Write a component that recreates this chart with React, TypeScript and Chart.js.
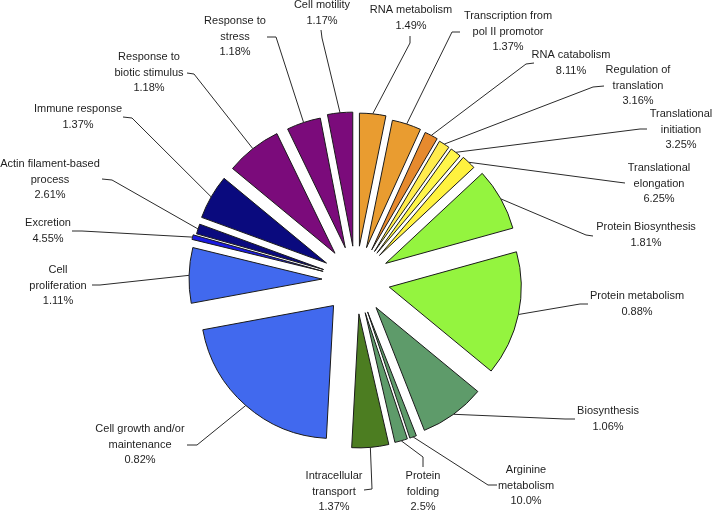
import React, { useEffect, useRef } from 'react';
import { Chart, registerables, ArcElement, PolarAreaController } from 'chart.js';

Chart.register(...registerables);

// ---------- data ----------
const categories: string[] = [
  'RNA metabolism',
  'Transcription from\npol II promotor',
  'RNA catabolism',
  'Regulation of\ntranslation',
  'Translational\ninitiation',
  'Translational\nelongation',
  'Protein Biosynthesis',
  'Protein metabolism',
  'Biosynthesis',
  'Arginine\nmetabolism',
  'Protein\nfolding',
  'Intracellular\ntransport',
  'Cell growth and/or\nmaintenance',
  'Cell\nproliferation',
  'Excretion',
  'Actin filament-based\nprocess',
  'Immune response',
  'Response to\nbiotic stimulus',
  'Response to\nstress',
  'Cell motility',
];

const percentLabels: string[] = [
  '1.49%', '1.37%', '8.11%', '3.16%', '3.25%', '6.25%', '1.81%', '0.88%', '1.06%', '10.0%',
  '2.5%', '1.37%', '0.82%', '1.11%', '4.55%', '2.61%', '1.37%', '1.18%', '1.18%', '1.17%',
];

// angular width of each slice (degrees)
const sliceAngles: number[] = [
  11.5, 13, 6, 5, 5, 6.5, 27.5, 55, 29, 3,
  5.6, 16, 76.4, 24.2, 2, 4.4, 19.5, 24.5, 15, 10.9,
];

// radial value of each slice
const sliceRadii: number[] = [
  133, 130, 129, 128, 128, 129, 132, 132, 132, 133,
  133, 134, 133, 133, 135, 132, 133, 133, 132, 134,
];

const sliceColors: string[] = [
  '#E99C30', '#E99C30', '#E68A2E', '#FFEC4D', '#FFF64A', '#FFF23F', '#94F43F', '#94F43F', '#5E9B6A', '#5E9B6A',
  '#5E9B6A', '#4C7D21', '#4169EE', '#4169EE', '#1B1BE0', '#0A0A7E', '#0A0A7E', '#7B0B7B', '#7B0B7B', '#7B0B7B',
];

// ---------- layout (label text centre of first line, leader elbow and end) ----------
const labelLayout = [
  { x: 411, y: 10, ex: 410, ey: 43, lx: 410, ly: 36 },
  { x: 508, y: 16, ex: 452, ey: 32, lx: 460, ly: 32 },
  { x: 571, y: 55, ex: 526, ey: 64, lx: 534, ly: 63 },
  { x: 638, y: 70, ex: 593, ey: 87, lx: 604, ly: 86 },
  { x: 681, y: 114, ex: 640, ey: 129, lx: 647, ly: 129 },
  { x: 659, y: 168, ex: 617, ey: 182, lx: 625, ly: 183 },
  { x: 646, y: 227, ex: 586, ey: 235, lx: 593, ly: 236 },
  { x: 637, y: 296, ex: 580, ey: 304, lx: 588, ly: 304 },
  { x: 608, y: 411, ex: 565, ey: 419, lx: 575, ly: 419 },
  { x: 526, y: 470, ex: 488, ey: 485, lx: 497, ly: 485 },
  { x: 423, y: 476, ex: 423, ey: 457, lx: 423, ly: 467 },
  { x: 334, y: 476, ex: 372, ey: 489, lx: 364, ly: 490 },
  { x: 140, y: 429, ex: 197, ey: 445, lx: 187, ly: 445 },
  { x: 58, y: 270, ex: 100, ey: 285, lx: 92, ly: 285 },
  { x: 48, y: 223, ex: 82, ey: 231, lx: 72, ly: 231 },
  { x: 50, y: 164, ex: 112, ey: 180, lx: 102, ly: 179 },
  { x: 78, y: 109, ex: 132, ey: 118, lx: 123, ly: 117 },
  { x: 149, y: 57, ex: 194, ey: 74, lx: 187, ly: 73 },
  { x: 235, y: 21, ex: 276, ey: 37, lx: 267, ly: 37 },
  { x: 322, y: 5, ex: 322, ey: 38, lx: 321, ly: 30 },
];

const EXPLODE = 34;
const LINE_H = 15.5;
const FONT = '11px "Liberation Sans", Arial, sans-serif';

// ---------- exploded arc element / controller ----------
class ExplodedArc extends ArcElement {
  static id = 'explodedArc';
  static defaults = { ...(ArcElement as any).defaults, explode: 0 };
  draw(ctx: CanvasRenderingContext2D) {
    const self: any = this;
    const d = (self.options && self.options.explode) || 0;
    const half = (self.startAngle + self.endAngle) / 2;
    ctx.save();
    ctx.translate(Math.cos(half) * d, Math.sin(half) * d);
    super.draw(ctx);
    ctx.restore();
  }
}

class ExplodedPolarAreaController extends PolarAreaController {
  static id = 'explodedPolarArea';
  static defaults = { ...(PolarAreaController as any).defaults, dataElementType: 'explodedArc' };
}

Chart.register(ExplodedArc as any, ExplodedPolarAreaController as any);

const labelPlugin = {
  id: 'sliceLabels',
  afterDatasetsDraw(chart: any) {
    const ctx: CanvasRenderingContext2D = chart.ctx;
    const meta = chart.getDatasetMeta(0);
    ctx.save();
    ctx.strokeStyle = '#2a2a2a';
    ctx.lineWidth = 1;
    ctx.fillStyle = '#1e1e1e';
    ctx.font = FONT;
    ctx.textAlign = 'center';
    ctx.textBaseline = 'middle';
    meta.data.forEach((arc: any, i: number) => {
      const { x, y, startAngle, endAngle, outerRadius } = arc;
      const mid = (startAngle + endAngle) / 2;
      const d = EXPLODE + outerRadius;
      const ax = x + Math.cos(mid) * d;
      const ay = y + Math.sin(mid) * d;
      const L = labelLayout[i];
      ctx.beginPath();
      ctx.moveTo(ax, ay);
      ctx.lineTo(L.ex, L.ey);
      ctx.lineTo(L.lx, L.ly);
      ctx.stroke();
      const lines = [...categories[i].split('\n'), percentLabels[i]];
      lines.forEach((t, k) => ctx.fillText(t, L.x, L.y + k * LINE_H));
    });
    ctx.restore();
  },
};

export default function App() {
  const ref = useRef<HTMLCanvasElement | null>(null);
  useEffect(() => {
    if (!ref.current) return;
    const chart = new Chart(ref.current, {
      type: 'explodedPolarArea' as any,
      data: {
        labels: categories.map((c) => c.replace('\n', ' ')),
        datasets: [
          {
            data: sliceRadii,
            angle: sliceAngles,
            backgroundColor: sliceColors,
            borderColor: '#1a1a1a',
            borderWidth: 1,
            borderJoinStyle: 'miter',
            explode: EXPLODE,
            clip: false,
          } as any,
        ],
      },
      options: {
        responsive: false,
        animation: false,
        events: [],
        layout: { padding: { left: 216, right: 216, top: 140, bottom: 90 } },
        plugins: { legend: { display: false }, tooltip: { enabled: false } },
        scales: { r: { display: false, min: 0, max: 140 } as any },
      } as any,
      plugins: [labelPlugin],
    });
    return () => chart.destroy();
  }, []);
  return (
    <div style={{ position: 'absolute', left: 0, top: 0, width: 712, height: 510, background: '#fff' }}>
      <canvas ref={ref} width={712} height={510} style={{ display: 'block' }} />
    </div>
  );
}
